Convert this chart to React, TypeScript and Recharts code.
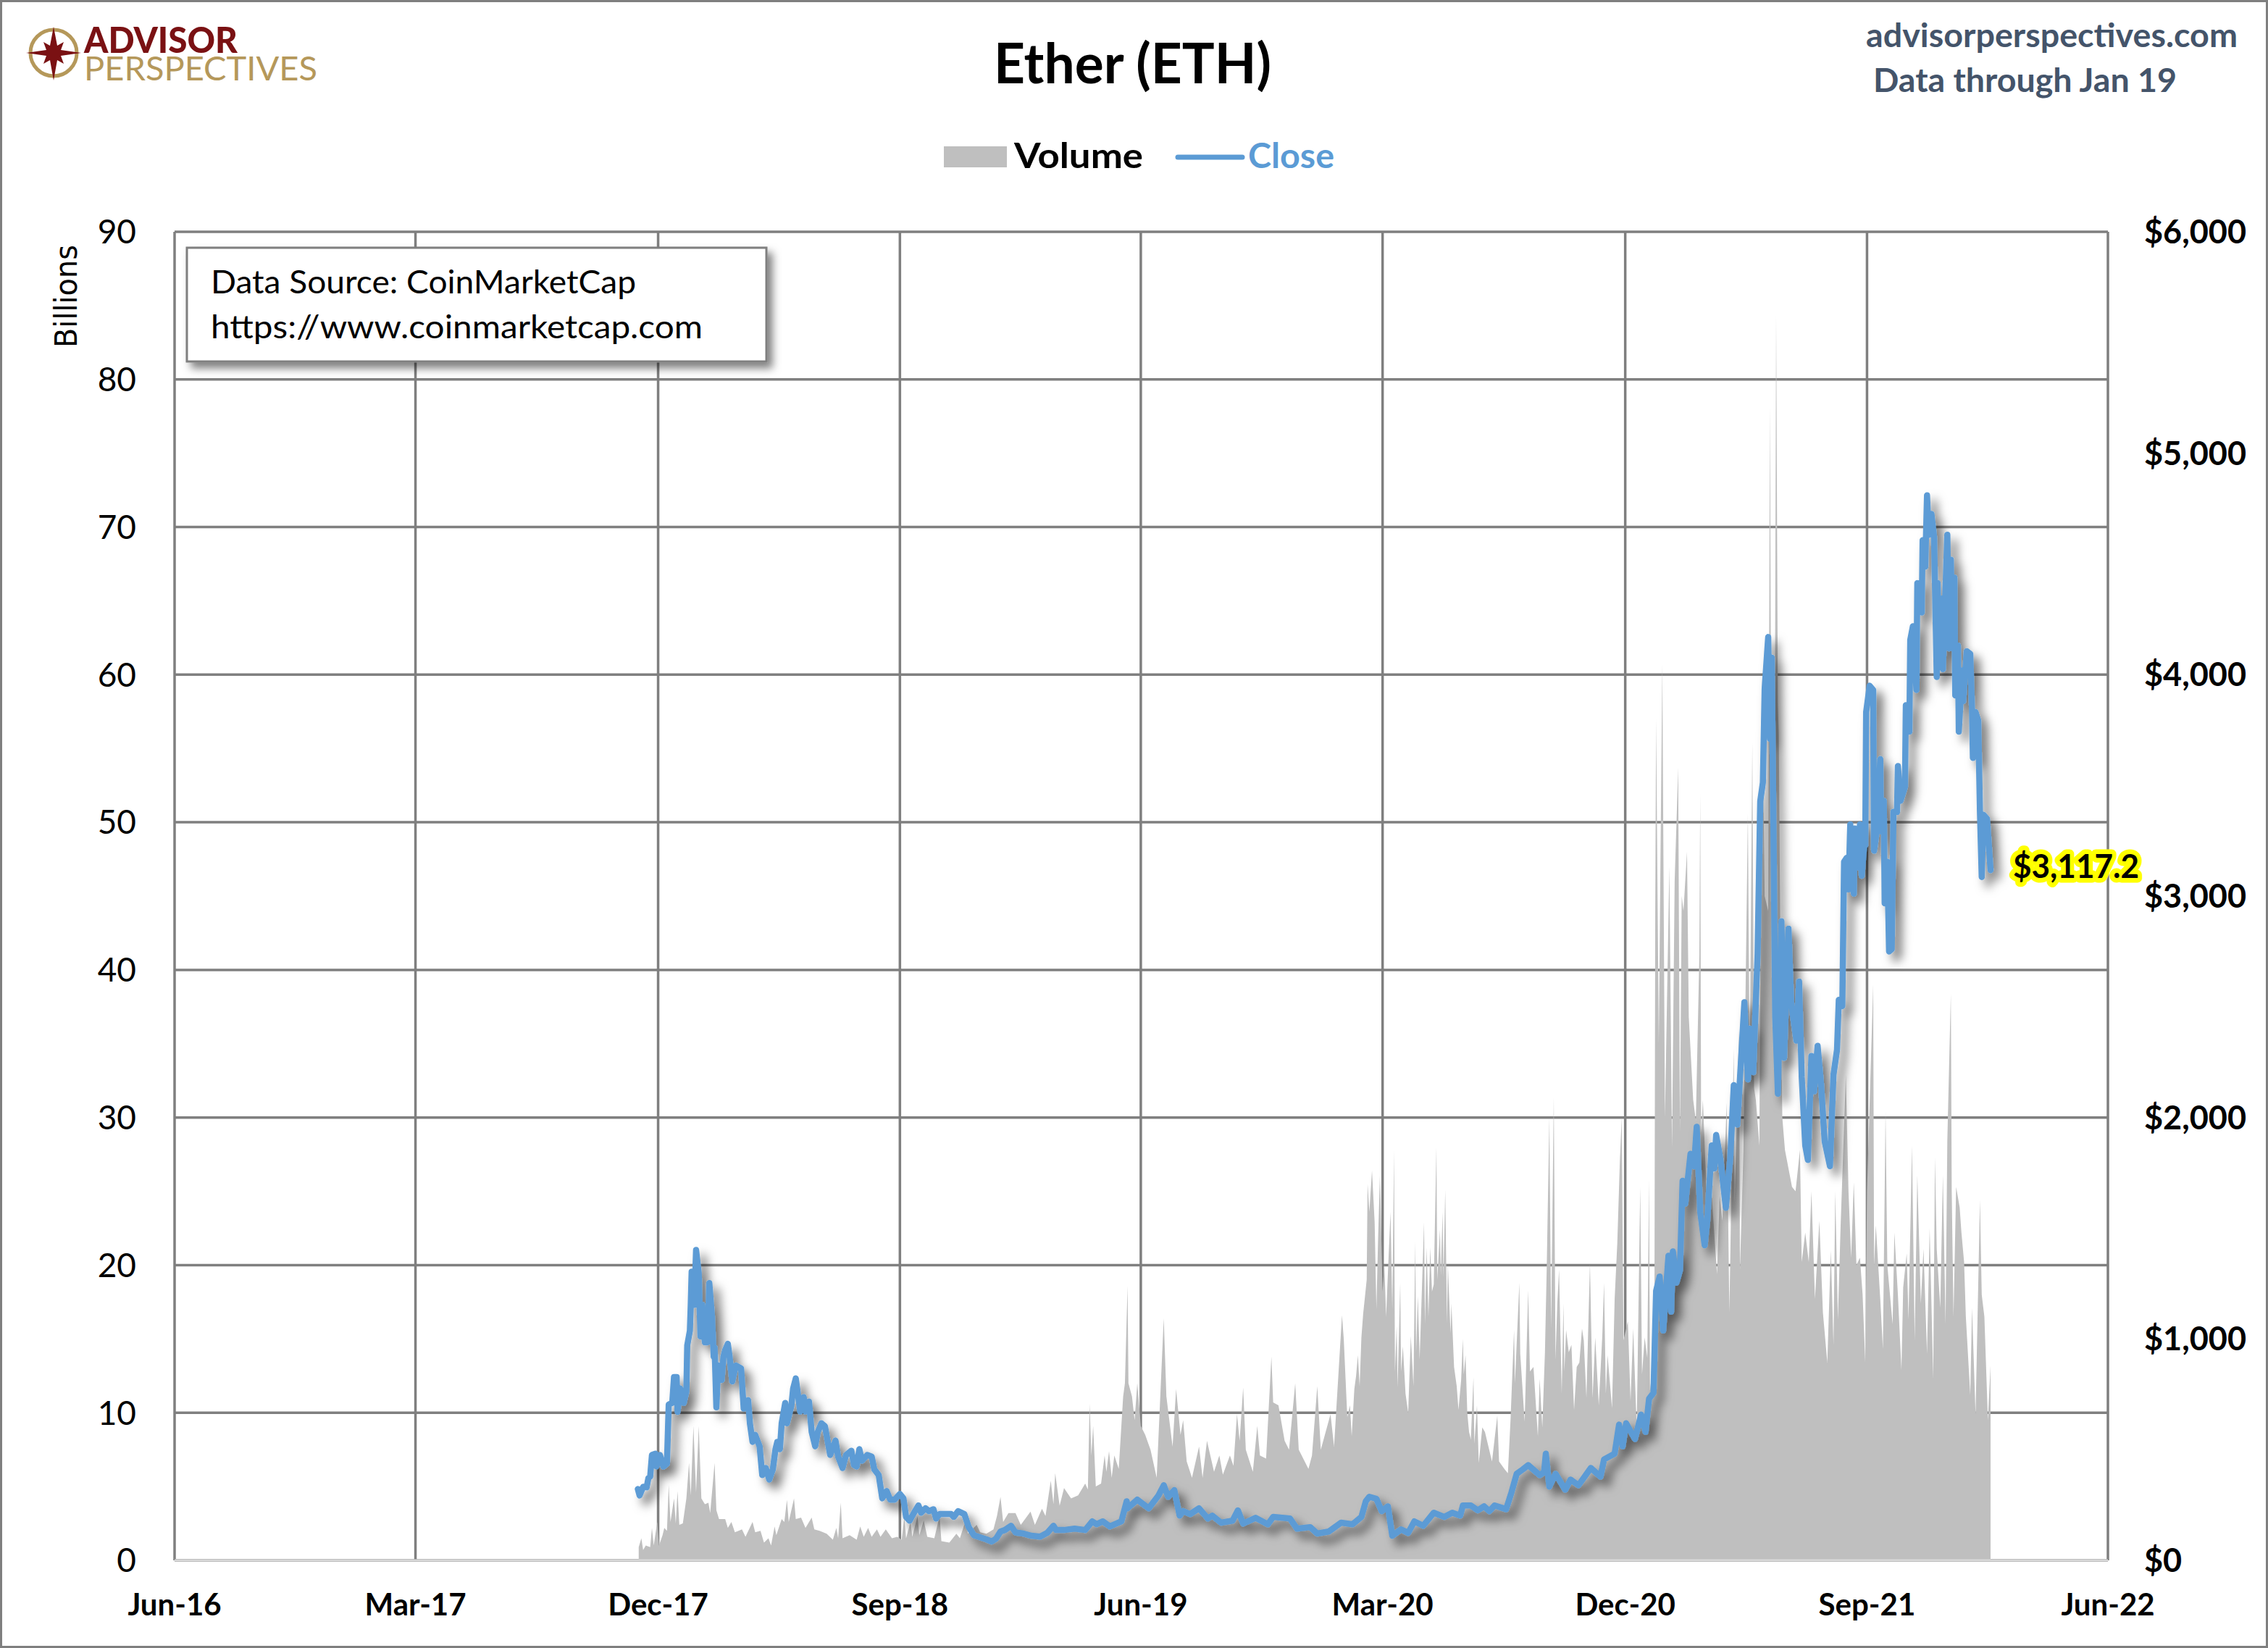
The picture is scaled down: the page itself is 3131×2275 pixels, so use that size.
import React from "react";
import {
  Area,
  CartesianGrid,
  ComposedChart,
  Legend,
  Line,
  ReferenceDot,
  XAxis,
  YAxis,
} from "recharts";

// x is days since 1 Jun 2016
const xTicks = [0, 273, 548, 822, 1095, 1369, 1644, 1918, 2191];
const xLabels = ["Jun-16", "Mar-17", "Dec-17", "Sep-18", "Jun-19", "Mar-20", "Dec-20", "Sep-21", "Jun-22"];
const volumeTicks = [0, 10, 20, 30, 40, 50, 60, 70, 80, 90];
const closeTicks = [0, 1000, 2000, 3000, 4000, 5000, 6000];

const closeDays = [
  525, 527, 531, 535, 537, 539, 541, 545, 546, 550, 554, 558, 560, 564, 566, 569, 570, 573, 577, 580,
  581, 584, 585, 586, 589, 591, 594, 596, 598, 601, 604, 606, 609, 611, 612, 614, 616, 620, 622, 624,
  627, 629, 632, 636, 642, 645, 650, 652, 655, 658, 663, 666, 670, 674, 678, 681, 683, 686, 688, 692,
  694, 699, 701, 704, 706, 709, 713, 715, 719, 722, 726, 729, 733, 737, 740, 743, 749, 752, 757, 761,
  767, 770, 773, 776, 779, 785, 790, 793, 798, 802, 807, 811, 816, 822, 826, 829, 833, 839, 843, 846,
  851, 855, 860, 863, 867, 880, 883, 888, 895, 900, 906, 913, 920, 926, 931, 936, 941, 948, 953, 962,
  971, 981, 989, 996, 999, 1008, 1020, 1032, 1040, 1045, 1052, 1060, 1073, 1079, 1080, 1091, 1104, 1115, 1121, 1126,
  1133, 1139, 1143, 1151, 1161, 1171, 1176, 1186, 1199, 1205, 1211, 1225, 1239, 1245, 1264, 1272, 1287, 1295, 1308, 1322,
  1335, 1345, 1350, 1354, 1362, 1368, 1375, 1380, 1390, 1398, 1405, 1415, 1427, 1439, 1448, 1457, 1460, 1469, 1477, 1484,
  1490, 1496, 1509, 1515, 1521, 1528, 1534, 1547, 1552, 1554, 1558, 1565, 1576, 1582, 1591, 1605, 1616, 1620, 1632, 1637,
  1641, 1645, 1655, 1662, 1667, 1671, 1676, 1679, 1683, 1687, 1693, 1696, 1698, 1702, 1706, 1709, 1712, 1718, 1722, 1725,
  1729, 1734, 1737, 1742, 1745, 1747, 1752, 1758, 1763, 1767, 1771, 1779, 1783, 1785, 1789, 1794, 1797, 1800, 1802, 1806,
  1808, 1810, 1812, 1814, 1817, 1821, 1824, 1829, 1832, 1838, 1841, 1844, 1848, 1851, 1855, 1858, 1862, 1866, 1870, 1876,
  1880, 1884, 1886, 1890, 1892, 1895, 1897, 1899, 1903, 1904, 1907, 1910, 1912, 1915, 1916, 1917, 1921, 1925, 1926, 1929,
  1933, 1934, 1937, 1938, 1941, 1943, 1946, 1948, 1952, 1953, 1956, 1961, 1962, 1966, 1967, 1970, 1974, 1975, 1980, 1981,
  1984, 1986, 1988, 1991, 1994, 1997, 1998, 2000, 2003, 2004, 2009, 2011, 2013, 2015, 2017, 2018, 2021, 2022, 2026, 2027,
  2031, 2035, 2037, 2038, 2041, 2044, 2046, 2048, 2050, 2054, 2058,
];
const closeValues = [
  322, 293, 332, 330, 372, 378, 476, 482, 424, 476, 424, 437, 704, 711, 828, 828, 671, 776, 711, 763,
  971, 1037, 1154, 1304, 1154, 1402, 1297, 1011, 1154, 985, 985, 1252, 1102, 919, 960, 691, 880, 815, 919, 950,
  978, 919, 808, 880, 867, 685, 724, 619, 535, 567, 515, 385, 417, 365, 411, 502, 535, 502, 619, 711,
  619, 698, 776, 822, 763, 672, 737, 672, 717, 580, 515, 580, 619, 606, 541, 476, 541, 469, 417, 476,
  495, 430, 424, 502, 450, 476, 469, 411, 385, 280, 313, 274, 274, 300, 280, 196, 179, 222, 248, 215,
  235, 222, 231, 189, 209, 209, 196, 222, 209, 150, 113, 104, 95, 85, 98, 130, 137, 156, 126, 121,
  111, 107, 124, 156, 137, 137, 143, 137, 176, 163, 176, 153, 176, 267, 235, 274, 235, 293, 339, 287,
  317, 202, 222, 209, 235, 189, 202, 170, 179, 226, 166, 192, 163, 196, 189, 143, 150, 121, 130, 170,
  163, 196, 267, 287, 278, 222, 244, 111, 140, 124, 176, 156, 215, 196, 215, 202, 248, 248, 226, 244,
  222, 248, 231, 306, 391, 411, 430, 385, 398, 482, 333, 391, 319, 365, 339, 417, 378, 456, 482, 613,
  515, 619, 548, 658, 580, 730, 756, 1217, 1282, 1038, 1376, 1123, 1395, 1254, 1310, 1714, 1611, 1836, 1780, 1958,
  1573, 1423, 1536, 1874, 1770, 1921, 1808, 1592, 1817, 2146, 1968, 2521, 2172, 2401, 2205, 2739, 3428, 3513, 3935, 4170,
  3710, 4076, 3297, 2456, 2107, 2886, 2270, 2853, 2521, 2347, 2614, 2183, 1874, 1808, 2278, 2118, 2324, 2146, 1892, 1780,
  2193, 2306, 2531, 2503, 3155, 3173, 3030, 3324, 3011, 3305, 3130, 3324, 3092, 3242, 3230, 3831, 3950, 3931, 3205, 3292,
  3618, 3292, 3430, 2967, 3155, 2750, 2760, 3380, 3380, 3587, 3430, 3493, 3862, 3743, 4156, 4219, 3931, 4413, 4281, 4607,
  4488, 4810, 4632, 4726, 4620, 3990, 4413, 4069, 4344, 4025, 4632, 4119, 4519, 4119, 4438, 3906, 4131, 3743, 4019, 3881,
  4106, 4094, 3843, 3624, 3831, 3793, 3380, 3086, 3367, 3349, 3117,
];

const volumeDays = [
  526, 529, 531, 534, 539, 541, 543, 547, 549, 553, 555, 558, 560, 562, 566, 568, 570, 572, 576, 580,
  583, 585, 588, 591, 594, 597, 601, 605, 607, 612, 614, 617, 624, 627, 631, 635, 643, 647, 655, 658,
  664, 668, 673, 676, 680, 682, 688, 691, 694, 696, 702, 704, 710, 715, 722, 725, 731, 739, 746, 750,
  752, 755, 757, 765, 773, 777, 781, 786, 790, 796, 800, 806, 813, 819, 824, 827, 829, 834, 836, 842,
  844, 849, 853, 861, 867, 869, 878, 886, 890, 897, 899, 909, 913, 920, 928, 932, 936, 939, 945, 953,
  959, 970, 975, 983, 987, 993, 996, 998, 1003, 1008, 1016, 1024, 1032, 1035, 1037, 1039, 1041, 1044, 1050, 1054,
  1056, 1059, 1062, 1065, 1070, 1075, 1077, 1080, 1081, 1085, 1088, 1091, 1095, 1100, 1106, 1113, 1121, 1124, 1131, 1135,
  1140, 1143, 1147, 1153, 1161, 1165, 1170, 1178, 1184, 1188, 1196, 1200, 1204, 1207, 1211, 1214, 1222, 1227, 1230, 1237,
  1243, 1245, 1251, 1258, 1263, 1270, 1274, 1285, 1289, 1295, 1299, 1310, 1314, 1323, 1325, 1329, 1332, 1334, 1337, 1339,
  1341, 1343, 1345, 1347, 1351, 1352, 1354, 1357, 1360, 1362, 1364, 1366, 1369, 1371, 1373, 1375, 1378, 1380, 1382, 1383,
  1385, 1386, 1389, 1390, 1392, 1395, 1398, 1401, 1404, 1406, 1407, 1409, 1411, 1416, 1417, 1419, 1421, 1423, 1425, 1427,
  1430, 1431, 1434, 1435, 1437, 1438, 1440, 1442, 1443, 1446, 1447, 1450, 1453, 1455, 1458, 1460, 1461, 1463, 1465, 1467,
  1469, 1472, 1473, 1476, 1478, 1482, 1485, 1493, 1499, 1501, 1507, 1511, 1514, 1518, 1519, 1524, 1525, 1530, 1534, 1536,
  1540, 1545, 1547, 1550, 1553, 1555, 1558, 1560, 1563, 1565, 1567, 1569, 1572, 1574, 1575, 1577, 1580, 1583, 1586, 1589,
  1592, 1595, 1597, 1600, 1604, 1607, 1610, 1614, 1618, 1620, 1622, 1624, 1629, 1632, 1635, 1638, 1640, 1642, 1647, 1650,
  1653, 1657, 1661, 1663, 1666, 1669, 1671, 1672, 1677, 1678, 1679, 1682, 1686, 1689, 1694, 1697, 1700, 1704, 1706, 1708,
  1710, 1714, 1716, 1721, 1724, 1728, 1729, 1730, 1732, 1737, 1741, 1748, 1751, 1754, 1759, 1762, 1767, 1768, 1773, 1774,
  1778, 1783, 1785, 1788, 1790, 1792, 1796, 1799, 1802, 1806, 1808, 1810, 1813, 1815, 1817, 1818, 1820, 1822, 1825, 1833,
  1837, 1842, 1844, 1848, 1852, 1855, 1859, 1864, 1868, 1873, 1877, 1880, 1882, 1885, 1888, 1894, 1897, 1900, 1903, 1906,
  1910, 1913, 1916, 1918, 1925, 1926, 1928, 1933, 1936, 1939, 1941, 1947, 1949, 1953, 1957, 1959, 1963, 1965, 1969, 1972,
  1975, 1979, 1982, 1986, 1989, 1993, 1995, 1997, 2001, 2004, 2007, 2009, 2013, 2014, 2016, 2019, 2023, 2025, 2028, 2030,
  2035, 2037, 2041, 2046, 2048, 2051, 2055, 2058,
];
const volumeValues = [
  0.9, 1.5, 0.7, 1.0, 0.9, 2.2, 1.0, 2.6, 1.0, 1.7, 2.2, 2.0, 5.1, 2.6, 4.2, 2.5, 4.7, 2.4, 2.5, 4.2,
  6.6, 4.4, 9.1, 4.6, 9.1, 4.2, 3.8, 3.9, 3.2, 6.6, 3.4, 2.8, 2.8, 2.2, 2.6, 1.9, 2.1, 1.6, 2.6, 1.9,
  2.0, 1.2, 1.5, 1.0, 2.3, 1.7, 2.8, 2.6, 4.1, 2.6, 4.2, 2.8, 2.9, 2.2, 2.9, 2.1, 2.0, 1.8, 1.4, 2.2,
  1.5, 3.9, 1.5, 1.7, 1.4, 2.3, 1.6, 2.2, 1.6, 2.1, 1.6, 2.1, 1.5, 1.6, 1.4, 2.9, 1.5, 2.6, 1.6, 3.0,
  1.7, 2.7, 1.6, 1.5, 3.0, 1.3, 1.2, 1.8, 1.5, 2.8, 1.8, 2.4, 1.9, 1.8, 2.1, 3.0, 4.3, 2.6, 3.2, 3.2,
  2.4, 3.3, 2.4, 3.5, 3.0, 5.4, 3.8, 5.9, 3.7, 4.9, 4.2, 4.4, 5.2, 4.8, 10.6, 7.1, 9.1, 5.0, 5.2, 7.1,
  6.0, 7.4, 5.6, 7.1, 6.2, 11.1, 12.0, 18.6, 12.0, 11.1, 9.5, 12.0, 9.1, 8.5, 7.5, 5.6, 16.4, 11.1, 7.7, 11.6,
  8.5, 9.5, 6.7, 5.6, 7.7, 5.6, 8.1, 6.0, 7.1, 5.8, 7.1, 6.4, 9.9, 8.1, 11.7, 7.5, 6.0, 9.1, 7.1, 6.9,
  13.8, 10.7, 10.5, 8.1, 7.5, 12.0, 7.5, 6.2, 7.1, 11.8, 7.5, 9.9, 7.7, 16.6, 15.0, 9.7, 10.5, 8.4, 11.6, 12.5,
  13.9, 11.8, 15.1, 16.7, 19.0, 25.5, 23.6, 26.4, 22.9, 17.0, 22.0, 26.1, 18.2, 20.1, 16.5, 19.4, 23.6, 17.0, 27.8, 12.8,
  15.9, 11.7, 18.8, 12.8, 14.5, 11.3, 10.0, 15.2, 11.8, 21.6, 14.1, 17.9, 13.6, 22.9, 16.0, 21.2, 16.5, 21.2, 18.2, 18.7,
  28.0, 19.0, 22.4, 19.3, 23.6, 19.2, 25.1, 16.1, 20.0, 15.4, 17.4, 13.1, 11.8, 10.2, 12.2, 15.0, 12.6, 13.9, 10.0, 8.7,
  8.2, 12.4, 7.9, 10.5, 6.6, 9.0, 8.7, 6.7, 9.8, 6.7, 6.2, 5.9, 9.5, 15.6, 12.0, 18.8, 14.0, 9.4, 18.3, 12.8,
  13.1, 8.4, 12.3, 9.0, 14.1, 19.7, 30.0, 15.7, 31.4, 13.6, 17.4, 19.7, 11.3, 17.4, 12.8, 15.6, 14.1, 14.6, 10.2, 13.1,
  13.4, 15.7, 14.9, 11.0, 20.1, 11.0, 15.1, 10.5, 15.2, 18.8, 11.3, 13.9, 10.3, 17.7, 21.5, 27.2, 30.0, 14.9, 16.2, 10.8,
  15.7, 9.0, 25.3, 12.6, 15.1, 13.7, 25.8, 11.5, 14.0, 44.0, 57.0, 35.0, 60.7, 30.0, 47.0, 28.0, 46.0, 53.7, 29.0, 45.0,
  44.0, 48.0, 36.8, 31.2, 29.8, 41.0, 52.0, 29.0, 31.2, 23.6, 25.6, 19.4, 24.7, 23.0, 31.0, 16.8, 34.7, 24.2, 36.0, 19.7,
  27.8, 50.6, 33.0, 55.4, 32.0, 31.2, 28.1, 60.0, 45.0, 44.0, 78.2, 45.0, 45.0, 84.4, 58.0, 56.0, 40.0, 30.0, 27.8, 25.3,
  25.0, 27.8, 20.2, 22.2, 20.2, 25.0, 17.7, 23.0, 16.8, 13.4, 21.0, 14.6, 25.0, 16.3, 22.5, 32.9, 25.0, 20.5, 25.6, 20.0,
  20.5, 18.0, 13.4, 25.0, 39.0, 20.0, 22.7, 17.7, 14.3, 30.4, 20.0, 16.0, 22.2, 18.0, 12.9, 18.5, 20.8, 16.3, 28.1, 14.9,
  26.1, 17.4, 21.1, 14.0, 22.5, 12.3, 27.3, 21.1, 17.1, 26.1, 16.0, 28.4, 38.4, 25.0, 16.5, 25.3, 23.9, 22.2, 20.2, 16.5,
  11.2, 17.1, 9.9, 24.4, 18.0, 16.5, 9.5, 13.2,
];

const lastDay = 2058;
const lastClose = 3117.2;

const rows = [
  ...volumeDays.map((day, i) => ({ day, volume: volumeValues[i] })),
  ...closeDays.map((day, i) => ({ day, close: closeValues[i] })),
].sort((a, b) => a.day - b.day);

const GRID = "#7f7f7f";
const BLUE = "#5b9bd5";
const SANS = "Lato, Carlito, sans-serif";

function ChartLegend({ payload }: { payload?: Array<{ value: string; color: string }> }) {
  const items = payload ?? [];
  return (
    <svg width={560} height={60} style={{ display: "block" }}>
      {items.map((entry) =>
        entry.value === "Volume" ? (
          <g key={entry.value}>
            <rect x={0} y={15} width={87} height={29} fill="#bfbfbf" />
            <text x={97} y={45} fontFamily={SANS} fontWeight={700} fontSize={47} fill="#000" textLength={178} lengthAdjust="spacingAndGlyphs">
              {entry.value}
            </text>
          </g>
        ) : (
          <g key={entry.value}>
            <line x1={323} y1={30} x2={412} y2={30} stroke={BLUE} strokeWidth={7} strokeLinecap="round" />
            <text x={420} y={45} fontFamily={SANS} fontWeight={700} fontSize={47} fill={BLUE} textLength={119} lengthAdjust="spacingAndGlyphs">
              {entry.value}
            </text>
          </g>
        ),
      )}
    </svg>
  );
}

function LastLabel({ viewBox }: { viewBox?: { x: number; y: number } }) {
  const x = (viewBox?.x ?? 0) + 31;
  const y = (viewBox?.y ?? 0) + 11;
  return (
    <text
      x={x}
      y={y}
      fontFamily={SANS}
      fontWeight={700}
      fontSize={45}
      textLength={174}
      lengthAdjust="spacingAndGlyphs"
      fill="#000"
      stroke="#ffff00"
      strokeWidth={13}
      strokeLinejoin="round"
      paintOrder="stroke"
    >
      $3,117.2
    </text>
  );
}

// page furniture that sits over the plot
function Overlay() {
  return (
    <svg width={3131} height={2275} style={{ position: "absolute", left: 0, top: 0, pointerEvents: "none" }}>
      <defs>
        <filter id="boxShadow" x="-5%" y="-10%" width="115%" height="130%">
          <feDropShadow dx="7" dy="8" stdDeviation="6" floodColor="#000" floodOpacity="0.5" />
        </filter>
        <filter id="lineShadow" filterUnits="userSpaceOnUse" x="0" y="0" width="3131" height="2275">
          <feDropShadow dx="9" dy="10" stdDeviation="7" floodColor="#000" floodOpacity="0.55" />
        </filter>
      </defs>
      <circle cx={74} cy={73} r={32} fill="none" stroke="#b5985a" strokeWidth={5} />
      <polygon
        points="74,37 79,63 88,58 84,69 112,73 84,77 88,88 79,83 74,111 69,83 60,88 64,77 36,73 64,69 60,58 69,63"
        fill="#7a1113"
      />
      <text x={116} y={73} fontFamily={SANS} fontWeight={900} fontSize={50} fill="#7a1113" textLength={212} lengthAdjust="spacingAndGlyphs">
        ADVISOR
      </text>
      <text x={116} y={111} fontFamily={SANS} fontWeight={400} fontSize={47} fill="#b5985a" textLength={322} lengthAdjust="spacingAndGlyphs">
        PERSPECTIVES
      </text>

      <text x={1372} y={115} fontFamily={SANS} fontWeight={700} fontSize={76} fill="#000" textLength={383} lengthAdjust="spacingAndGlyphs">
        Ether (ETH)
      </text>
      <text x={2576} y={65} fontFamily={SANS} fontWeight={700} fontSize={46} fill="#44546a" textLength={513} lengthAdjust="spacingAndGlyphs">
        advisorperspectives.com
      </text>
      <text x={2586} y={127} fontFamily={SANS} fontWeight={700} fontSize={46} fill="#44546a" textLength={419} lengthAdjust="spacingAndGlyphs">
        Data through Jan 19
      </text>

      <text
        transform="translate(106 480) rotate(-90)"
        fontFamily="'DejaVu Sans', sans-serif"
        fontSize={43}
        fill="#000"
        textLength={142}
        lengthAdjust="spacingAndGlyphs"
      >
        Billions
      </text>

      <rect x={258} y={342} width={800} height={157} fill="#fff" stroke={GRID} strokeWidth={3} filter="url(#boxShadow)" />
      <text x={291} y={405} fontFamily={SANS} fontSize={45} fill="#000" textLength={587} lengthAdjust="spacingAndGlyphs">
        Data Source: CoinMarketCap
      </text>
      <text x={291} y={467} fontFamily={SANS} fontSize={45} fill="#000" textLength={679} lengthAdjust="spacingAndGlyphs">
        https://www.coinmarketcap.com
      </text>
    </svg>
  );
}

export default function App() {
  return (
    <div
      style={{
        position: "absolute",
        left: 0,
        top: 0,
        width: 3131,
        height: 2275,
        boxSizing: "border-box",
        background: "#fff",
      }}
    >
      <style>{`.close-line { filter: url(#lineShadow); }`}</style>
      <ComposedChart width={3131} height={2275} data={rows} margin={{ top: 320, right: 71, bottom: 51, left: 141 }}>
        <CartesianGrid yAxisId="left" stroke={GRID} strokeWidth={3.5} />
        <XAxis
          dataKey="day"
          type="number"
          scale="linear"
          domain={[0, 2191]}
          ticks={xTicks}
          interval={0}
          height={70}
          tickSize={0}
          tickMargin={46}
          tickFormatter={(v: number) => xLabels[xTicks.indexOf(v)]}
          axisLine={{ stroke: "#d9d9d9", strokeWidth: 3 }}
          tick={{ fontFamily: SANS, fontWeight: 700, fontSize: 42, fill: "#000" }}
        />
        <YAxis
          yAxisId="left"
          domain={[0, 90]}
          ticks={volumeTicks}
          interval={0}
          width={100}
          tickSize={0}
          tickMargin={53}
          axisLine={false}
          tick={{ fontFamily: SANS, fontSize: 46, fill: "#000" }}
        />
        <YAxis
          yAxisId="right"
          orientation="right"
          domain={[0, 6000]}
          ticks={closeTicks}
          interval={0}
          width={150}
          tickSize={0}
          tickMargin={50}
          axisLine={false}
          tickFormatter={(v: number) => `$${v.toLocaleString("en-US")}`}
          tick={{ fontFamily: SANS, fontWeight: 700, fontSize: 45, fill: "#000" }}
        />
        <Legend
          layout="horizontal"
          align="center"
          verticalAlign="middle"
          wrapperStyle={{ top: 187, left: 1303, width: 560, bottom: "auto" }}
          content={<ChartLegend />}
        />
        <Area
          yAxisId="left"
          name="Volume"
          dataKey="volume"
          type="linear"
          fill="#bfbfbf"
          fillOpacity={1}
          stroke="none"
          connectNulls
          dot={false}
          activeDot={false}
          isAnimationActive={false}
        />
        <Line
          className="close-line"
          yAxisId="right"
          name="Close"
          dataKey="close"
          type="linear"
          stroke={BLUE}
          strokeWidth={8.5}
          strokeLinecap="round"
          strokeLinejoin="round"
          connectNulls
          dot={false}
          activeDot={false}
          isAnimationActive={false}
        />
        <ReferenceDot
          yAxisId="right"
          x={lastDay}
          y={lastClose}
          r={0}
          fill="none"
          stroke="none"
          label={<LastLabel />}
        />
      </ComposedChart>
      <Overlay />
      <div
        style={{
          position: "absolute",
          left: 0,
          top: 0,
          width: 3131,
          height: 2275,
          boxSizing: "border-box",
          border: `3px solid ${GRID}`,
          pointerEvents: "none",
        }}
      />
    </div>
  );
}
